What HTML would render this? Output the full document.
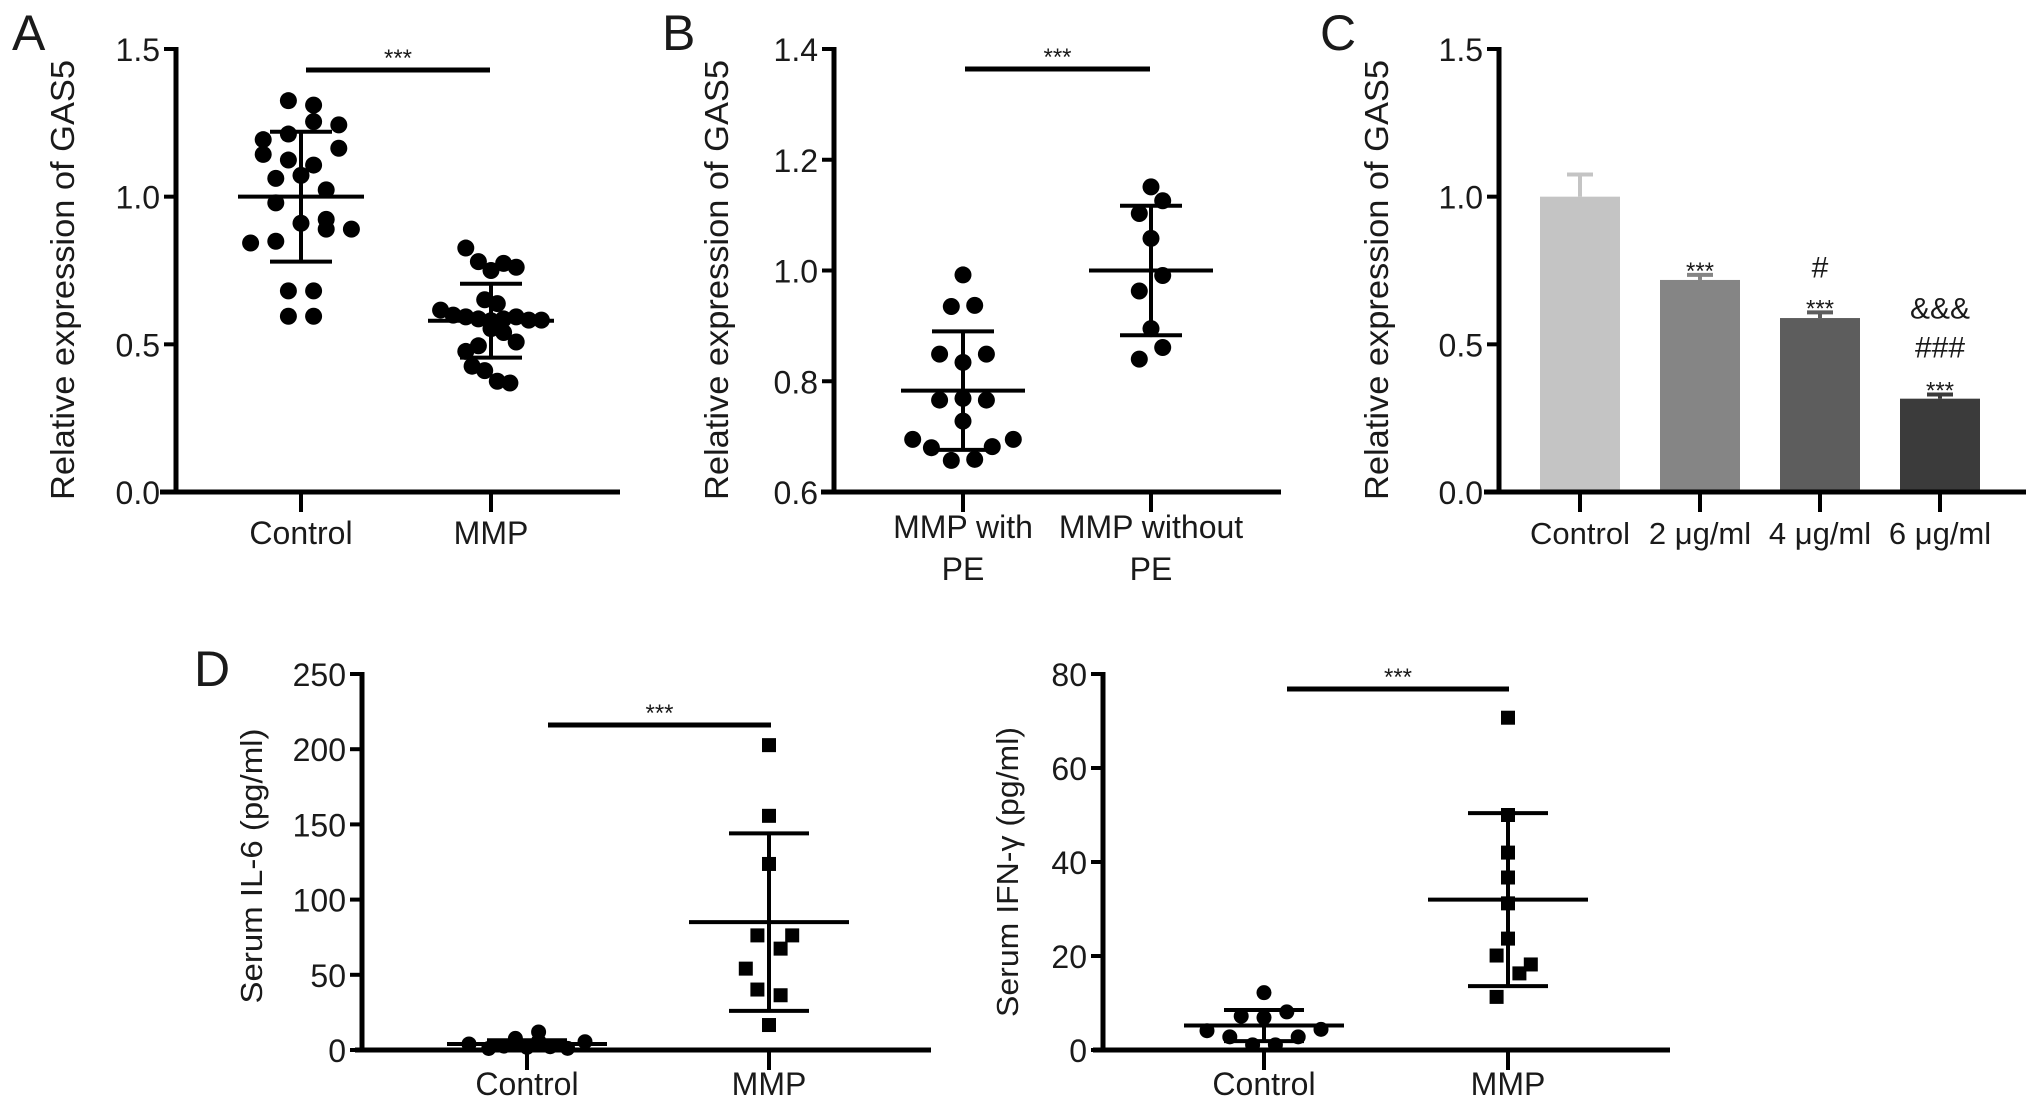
<!DOCTYPE html>
<html><head><meta charset="utf-8"><style>
html,body{margin:0;padding:0;background:#fff;overflow:hidden;}
svg{display:block;font-family:"Liberation Sans",Arial,sans-serif;}
</style></head><body>
<svg id="fig" width="2032" height="1108" viewBox="0 0 2032 1108" xmlns="http://www.w3.org/2000/svg"></svg>
<script>
// ---------- Panel A data ----------
const aCategories = ["Control","MMP"];
const aControl = [1.325,1.31,1.254,1.243,1.193,1.212,1.164,1.143,1.124,1.107,1.062,1.072,1.023,0.979,0.91,0.923,0.89,0.89,0.843,0.849,0.681,0.681,0.595,0.595];
const aControlJit = [-1,1,1,3,-3,-1,3,-3,-1,1,-2,0,2,-2,0,2,2,4,-4,-2,-1,1,-1,1];
const aMMP = [0.826,0.78,0.75,0.774,0.761,0.651,0.638,0.616,0.599,0.593,0.586,0.58,0.586,0.593,0.582,0.582,0.553,0.54,0.508,0.495,0.476,0.426,0.411,0.375,0.369];
const aMMPJit = [-2,-1,0,1,2,-0.5,0.5,-4,-3,-2,-1,0,1,2,3,4,0,1,2,-1,-2,-1.5,-0.5,0.5,1.5];
const aMean = [1.0,0.58];
const aSD = [0.22,0.125];
const aTicks = [0,0.5,1.0,1.5];
const aTickLabels = ["0.0","0.5","1.0","1.5"];
// ---------- Panel B data ----------
const bCategories = [["MMP with","PE"],["MMP without","PE"]];
const bWith = [0.992,0.935,0.937,0.849,0.849,0.834,0.766,0.769,0.766,0.728,0.695,0.68,0.682,0.695,0.657,0.659];
const bWithJit = [0,-1,1,-2,2,0,-2,0,2,0,-4.3,-2.7,2.5,4.3,-1,1];
const bWithout = [1.151,1.126,1.103,1.058,0.991,0.963,0.895,0.861,0.84];
const bWithoutJit = [0,1,-1,0,1,-1,0,1,-1];
const bMean = [0.783,1.0];
const bSD = [0.107,0.117];
const bTicks = [0.6,0.8,1.0,1.2,1.4];
const bTickLabels = ["0.6","0.8","1.0","1.2","1.4"];
// ---------- Panel C data ----------
const cCategories = ["Control","2 μg/ml","4 μg/ml","6 μg/ml"];
const cValues = [1.0,0.718,0.589,0.316];
const cErrors = [0.075,0.017,0.019,0.014];
const cAnnot = [[],["***"],["***","#"],["***","###","&&&"]];
const cTicks = [0,0.5,1.0,1.5];
const cTickLabels = ["0.0","0.5","1.0","1.5"];
// ---------- Panel D (IL-6) data ----------
const dCategories = ["Control","MMP"];
const il6Control = [4,1,2.6,7.7,1.8,12,2.2,1.1,5.5,6];
const il6ControlJit = [-5,-3.3,-2,-1,0,1,2,3.5,5,1];
const il6MMP = [202.7,155.7,123.7,76.2,76.2,67.4,54.1,40.2,36.4,16.6];
const il6MMPJit = [0,0,0,-1,2,1,-2,-1,1,0];
const il6Mean = [4,85];
const il6SD = [2.5,59];
const il6Ticks = [0,50,100,150,200,250];
// ---------- Panel D (IFN-γ) data ----------
const ifnControl = [12.2,7.2,8.1,6.9,4.1,4.4,2.8,2.8,1.1,1.1];
const ifnControlJit = [0,-2,2,0,-5,5,-3,3,-1,1];
const ifnMMP = [70.7,50,42,36.7,31.2,23.7,20.1,18.2,16.3,11.3];
const ifnMMPJit = [0,0,0,0,0,0,-1,2,1,-1];
const ifnMean = [5.2,32];
const ifnSD = [3.3,18.4];
const ifnTicks = [0,20,40,60,80];

const NS = "http://www.w3.org/2000/svg";
const svg = document.getElementById("fig");
function mk(tag, attrs, parent){
  const e = document.createElementNS(NS, tag);
  for (const k in attrs) e.setAttribute(k, attrs[k]);
  (parent||svg).appendChild(e);
  return e;
}
function txt(s, x, y, size, anchor, parent){
  const t = mk("text", {x:x, y:y, "font-size":size, "text-anchor":anchor||"middle", fill:"#1a1a1a"}, parent);
  t.textContent = s;
  return t;
}
function scaleY(min, max, y0, y1){ return v => y0 + (v-min)/(max-min)*(y1-y0); }

function axes(g, o){
  const ya = mk("line",{x1:o.ax,y1:o.yTop-2,x2:o.ax,y2:o.yBot+2,stroke:"#000","stroke-width":5},g);
  
  
  const xa = mk("line",{x1:o.xs,y1:o.yBot,x2:o.xe,y2:o.yBot,stroke:"#000","stroke-width":5},g);
  
  
  o.ticks.forEach((v,i)=>{
    const y = o.sy(v);
    const tk = mk("line",{x1:o.ax-12,y1:y,x2:o.ax,y2:y,stroke:"#000","stroke-width":4},g);
    
    
    const tl = txt(o.labels[i], o.ax-16, y+12, o.tfs, "end", g);
    
    
  });
  o.cx.forEach((x,i)=>{
    const tk = mk("line",{x1:x,y1:o.yBot,x2:x,y2:o.yBot+20,stroke:"#000","stroke-width":4},g);
    
    
    const lab = o.cats[i];
    const lines = Array.isArray(lab)?lab:[lab];
    lines.forEach((s,j)=>{
      const t = txt(s, x, o.labY + j*42, o.lfs, "middle", g);
      
      
    });
  });
  const yt = txt(o.ytitle, 0, 0, o.yfs, "middle", g);
  yt.setAttribute("transform", `translate(${o.ytx},${o.ytc}) rotate(-90)`);
  yt.setAttribute("textLength", o.ytl);
  yt.setAttribute("lengthAdjust", "spacingAndGlyphs");
  
  
}
function sig(g, x1, x2, y, size){
  const l = mk("line",{x1:x1,y1:y,x2:x2,y2:y,stroke:"#000","stroke-width":5},g);
  
  
  const t = txt("***", (x1+x2)/2, y-4, size||24, "middle", g);
  
  
}
function points(g, vals, jit, cx, step, sy, r, shape){
  vals.forEach((v,i)=>{
    const x = cx + jit[i]*step, y = sy(v);
    let p;
    if (shape==="sq") p = mk("rect",{x:x-r,y:y-r,width:2*r,height:2*r,fill:"#000"},g);
    else p = mk("circle",{cx:x,cy:y,r:r,fill:"#000"},g);
    
    
  });
}
function meanSD(g, cx, mean, sd, sy, mw, sw){
  const a = mk("line",{x1:cx,y1:sy(mean+sd),x2:cx,y2:sy(mean-sd),stroke:"#000","stroke-width":4},g);
  
  
  const m = mk("line",{x1:cx-mw,y1:sy(mean),x2:cx+mw,y2:sy(mean),stroke:"#000","stroke-width":4},g);
  
  
  [mean+sd,mean-sd].forEach(v=>{
    const c = mk("line",{x1:cx-sw,y1:sy(v),x2:cx+sw,y2:sy(v),stroke:"#000","stroke-width":4},g);
    
    
  });
}
function panelLetter(s,x,y){
  const t = txt(s,x,y,50,"start");
  
  
}

const TOP = 49, BOT = 492;
// ---------- Panel A ----------
{
  const g = mk("g",{});
  
  
  const sy = scaleY(0,1.5,BOT,TOP);
  const cx = [301,491];
  axes(g,{ax:176,xs:160,xe:620,yTop:TOP,yBot:BOT,sy:sy,ticks:aTicks,labels:aTickLabels,tfs:32,cx:cx,cats:aCategories,labY:544,lfs:32,ytitle:"Relative expression of GAS5",ytx:74,ytc:280,ytl:440,yfs:33});
  points(g,aControl,aControlJit,cx[0],12.6,sy,8.5);
  points(g,aMMP,aMMPJit,cx[1],12.6,sy,8.5);
  aMean.forEach((m,i)=>meanSD(g,cx[i],m,aSD[i],sy,63,31));
  sig(g,306,490,70);
  panelLetter("A",12,50);
}
// ---------- Panel B ----------
{
  const g = mk("g",{});
  
  
  const sy = scaleY(0.6,1.4,BOT,TOP);
  const cx = [963,1151];
  axes(g,{ax:834,xs:821,xe:1281,yTop:TOP,yBot:BOT,sy:sy,ticks:bTicks,labels:bTickLabels,tfs:32,cx:cx,cats:bCategories,labY:538,lfs:32,ytitle:"Relative expression of GAS5",ytx:728,ytc:280,ytl:440,yfs:33});
  points(g,bWith,bWithJit,cx[0],11.7,sy,8.5);
  points(g,bWithout,bWithoutJit,cx[1],11.7,sy,8.5);
  bMean.forEach((m,i)=>meanSD(g,cx[i],m,bSD[i],sy,62,31));
  sig(g,965,1150,69);
  panelLetter("B",662,50);
}
// ---------- Panel C ----------
{
  const g = mk("g",{});
  
  
  const sy = scaleY(0,1.5,BOT,TOP);
  const cx = [1580,1700,1820,1940];
  const colors = ["#c4c4c4","#858585","#5d5d5d","#3b3b3b"];
  const offs = {"***":2,"#":35,"###":37,"&&&":76};
  cValues.forEach((v,i)=>{
    const b = mk("rect",{x:cx[i]-40,y:sy(v),width:80,height:BOT-sy(v),fill:colors[i]},g);
    
    
    const top = sy(v+cErrors[i]);
    const e = mk("line",{x1:cx[i],y1:sy(v),x2:cx[i],y2:top,stroke:colors[i],"stroke-width":4},g);
    
    
    const c = mk("line",{x1:cx[i]-13,y1:top,x2:cx[i]+13,y2:top,stroke:colors[i],"stroke-width":4},g);
    
    
    cAnnot[i].forEach((s)=>{
      const yy = top - offs[s] + (s==="***"?6:0);
      const t = txt(s,cx[i],yy,s==="***"?24:30,"middle",g);
      
      
    });
  });
  axes(g,{ax:1499,xs:1484,xe:2026,yTop:TOP,yBot:BOT,sy:sy,ticks:cTicks,labels:cTickLabels,tfs:32,cx:cx,cats:cCategories,labY:544,lfs:31,ytitle:"Relative expression of GAS5",ytx:1388,ytc:280,ytl:440,yfs:33});
  panelLetter("C",1320,50);
}
// ---------- Panel D left ----------
const DTOP = 674, DBOT = 1050;
{
  const g = mk("g",{});
  
  
  const sy = scaleY(0,250,DBOT,DTOP);
  const cx = [527,769];
  axes(g,{ax:362,xs:355,xe:931,yTop:DTOP,yBot:DBOT,sy:sy,ticks:il6Ticks,labels:il6Ticks.map(String),tfs:32,cx:cx,cats:dCategories,labY:1095,lfs:32,ytitle:"Serum IL-6 (pg/ml)",ytx:262,ytc:866,ytl:275,yfs:31});
  points(g,il6Control,il6ControlJit,cx[0],11.6,sy,7.5);
  points(g,il6MMP,il6MMPJit,cx[1],11.6,sy,7,"sq");
  il6Mean.forEach((m,i)=>meanSD(g,cx[i],m,il6SD[i],sy,80,40));
  sig(g,548,771,725);
  panelLetter("D",194,686);
}
// ---------- Panel D right ----------
{
  const g = mk("g",{});
  
  
  const sy = scaleY(0,80,DBOT,DTOP);
  const cx = [1264,1508];
  axes(g,{ax:1103,xs:1093,xe:1670,yTop:DTOP,yBot:DBOT,sy:sy,ticks:ifnTicks,labels:ifnTicks.map(String),tfs:32,cx:cx,cats:dCategories,labY:1095,lfs:32,ytitle:"Serum IFN-γ (pg/ml)",ytx:1018,ytc:872,ytl:290,yfs:31});
  points(g,ifnControl,ifnControlJit,cx[0],11.4,sy,7.5);
  points(g,ifnMMP,ifnMMPJit,cx[1],11.4,sy,7,"sq");
  ifnMean.forEach((m,i)=>meanSD(g,cx[i],m,ifnSD[i],sy,80,40));
  sig(g,1287,1509,689);
}
</script>
</body></html>
